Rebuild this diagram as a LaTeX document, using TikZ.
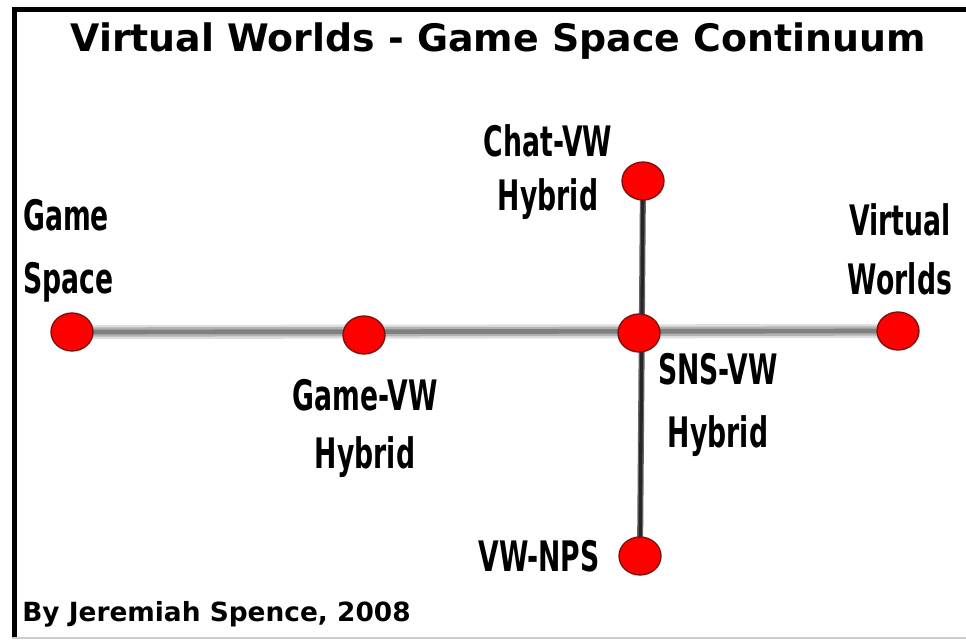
\documentclass[tikz,border=0pt]{standalone}
\usepackage{fontspec}
\usetikzlibrary{shapes.geometric,backgrounds}
\newfontfamily\dvs{DejaVu Sans}
\newfontfamily\dvc{DejaVu Sans}[FakeStretch=0.635]
\definecolor{dotred}{HTML}{FF0000}
\definecolor{dotedge}{HTML}{7A1010}
\tikzset{
  dot/.style={ellipse,fill=dotred,draw=dotedge,line width=1pt,minimum width=31.5pt,minimum height=28.5pt,inner sep=0pt},
  lab/.style={inner sep=0pt,align=center,font=\dvc\bfseries\fontsize{31.5}{#1}\selectfont},
  lab/.default=45pt,
}
\begin{document}
\begin{tikzpicture}[x=0.75pt,y=-0.75pt]
\useasboundingbox (0,0) rectangle (966,639);
% frame
\draw[line width=3.75pt] (14.5,639) -- (14.5,9.5) -- (966,9.5);
\draw[line width=1.5pt,color=black!20] (12,638) -- (966,638);
% title
\node[inner sep=0pt,anchor=base,font=\dvs\bfseries\fontsize{28.4}{34}\selectfont] (title) at (498,51) {Virtual Worlds - Game Space Continuum};
% dots
\node[dot] (gs) at (72,332) {};
\node[dot] (gvw) at (364,335) {};
\node[dot] (sns) at (639,333) {};
\node[dot] (vwd) at (898,331) {};
\node[dot] (chat) at (643,181) {};
\node[dot] (nps) at (640,556) {};
% connectors
\begin{scope}[on background layer]
\fill[white] (0,0) rectangle (966,639);
\draw[line width=10.5pt,color=black!13] (gs.center) -- (vwd.center);
\draw[line width=7pt,color=black!30] (gs.center) -- (vwd.center);
\draw[line width=3.5pt,color=black!50] (gs.center) -- (vwd.center);
\draw[line width=4.5pt,color=black!60] (chat.center) -- (nps.center);
\draw[line width=2.5pt,color=black!85] (chat.center) -- (nps.center);
\end{scope}
% labels (anchor base = baseline of the last line)
\node[lab=47.25pt,anchor=base west,align=left] (lgs) at (23,293) {Game\\Space};
\node[lab=43pt,anchor=base] (lgvw) at (365,468) {Game-VW\\Hybrid};
\node[lab=40pt,anchor=base] (lchat) at (548,210) {Chat-VW\\Hybrid};
\node[lab=44pt,anchor=base] (lvwd) at (900,294) {Virtual\\Worlds};
\node[lab=47pt,anchor=base] (lsns) at (718,447) {SNS-VW\\Hybrid};
\node[lab,anchor=base] (lnps) at (539,571) {VW-NPS};
% byline
\node[inner sep=0pt,anchor=base west,font=\dvs\bfseries\fontsize{19.8}{24}\selectfont] (by) at (22,621) {By Jeremiah Spence, 2008};
\end{tikzpicture}
\end{document}
